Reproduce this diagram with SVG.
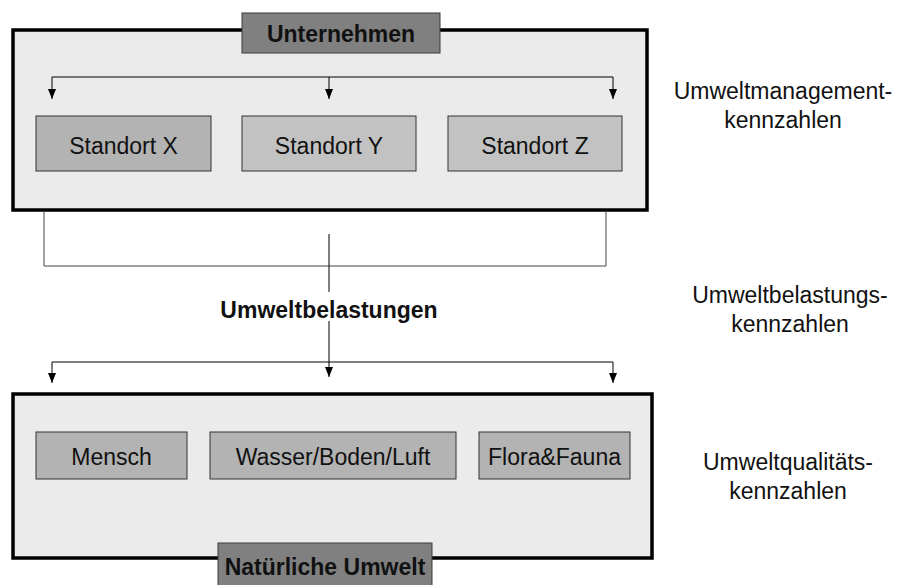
<svg xmlns="http://www.w3.org/2000/svg" width="902" height="585" viewBox="0 0 902 585">
  <style>
    .frame { fill: #ebebeb; stroke: #000; stroke-width: 3.5; }
    .tag { fill: #808080; stroke: #3a3a3a; stroke-width: 1; }
    .unit { fill: #b3b3b3; stroke: #333; stroke-width: 1; }
    .unit-lt { fill: #c2c2c2; stroke: #333; stroke-width: 1; }
    .t { font-family: "Liberation Sans", Arial, sans-serif; font-size: 23px; fill: #111; text-anchor: middle; }
    .b { font-weight: bold; }
    .line { fill: none; stroke: #000; stroke-width: 1; }
    .thin { fill: none; stroke: #444; stroke-width: 1; }
  </style>
  <defs>
    <!-- arrowhead drawn along +x, rotated to the path direction -->
    <marker id="arrow" viewBox="0 0 10 8" refX="10" refY="4" markerWidth="10" markerHeight="8" markerUnits="userSpaceOnUse" orient="auto">
      <path d="M0,0 L10,4 L0,8 Z" fill="#000"/>
    </marker>
  </defs>

  <rect width="902" height="585" fill="#fff"/>

  <!-- company frame -->
  <g id="unternehmen">
    <rect class="frame" x="13" y="30" width="634" height="180"/>
    <rect class="tag" x="242" y="13" width="198" height="40"/>
    <text class="t b" x="341" y="42">Unternehmen</text>
  </g>
  <g id="standort-x">
    <rect class="unit" x="36" y="116" width="175" height="55"/>
    <text class="t" x="123.5" y="154">Standort X</text>
  </g>
  <g id="standort-y">
    <rect class="unit-lt" x="242" y="116" width="174" height="55"/>
    <text class="t" x="329" y="154">Standort Y</text>
  </g>
  <g id="standort-z">
    <rect class="unit-lt" x="448" y="116" width="174" height="55"/>
    <text class="t" x="535" y="154">Standort Z</text>
  </g>

  <!-- natural environment frame -->
  <g id="natuerliche-umwelt">
    <rect class="frame" x="13" y="394" width="639" height="164"/>
    <rect class="tag" x="218" y="543" width="214" height="50"/>
    <text class="t b" x="325" y="575">Natürliche Umwelt</text>
  </g>
  <g id="mensch">
    <rect class="unit" x="36" y="432" width="151" height="47"/>
    <text class="t" x="111.5" y="465">Mensch</text>
  </g>
  <g id="wasser-boden-luft">
    <rect class="unit" x="210" y="432" width="246" height="47"/>
    <text class="t" x="333" y="465">Wasser/Boden/Luft</text>
  </g>
  <g id="flora-fauna">
    <rect class="unit" x="479" y="432" width="151" height="47"/>
    <text class="t" x="554.5" y="465">Flora&amp;Fauna</text>
  </g>

  <!-- connectors -->
  <g id="connectors">
    <path class="line" d="M52,77 H613"/>
    <path class="line" d="M52,77 V99" marker-end="url(#arrow)"/>
    <path class="line" d="M329,77 V99" marker-end="url(#arrow)"/>
    <path class="line" d="M613,77 V99" marker-end="url(#arrow)"/>

    <path class="thin" d="M44,212 V266 H606 V212"/>
    <path class="line" d="M329,234 V292"/>
    <path class="line" d="M329,321 V377" marker-end="url(#arrow)"/>

    <path class="line" d="M52,362 H613"/>
    <path class="line" d="M52,362 V383" marker-end="url(#arrow)"/>
    <path class="line" d="M613,362 V383" marker-end="url(#arrow)"/>
  </g>

  <g id="umweltbelastungen">
    <text class="t b" x="329" y="318">Umweltbelastungen</text>
  </g>

  <!-- indicator labels -->
  <g id="kennzahlen">
    <text class="t" x="783" y="99">Umweltmanagement-</text>
    <text class="t" x="783" y="128">kennzahlen</text>
    <text class="t" x="790" y="303">Umweltbelastungs-</text>
    <text class="t" x="790" y="332">kennzahlen</text>
    <text class="t" x="788" y="470">Umweltqualitäts-</text>
    <text class="t" x="788" y="499">kennzahlen</text>
  </g>
</svg>
